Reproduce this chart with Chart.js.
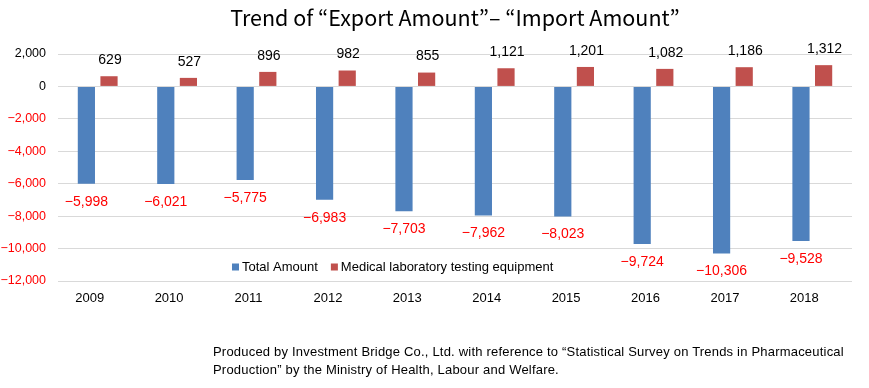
<!DOCTYPE html>
<html>
<head>
<meta charset="utf-8">
<script src="https://cdn.jsdelivr.net/npm/chart.js@4.4.0/dist/chart.umd.min.js"></script>
<style>
  body{margin:0;background:#fff;}
  #wrap{position:relative;width:869px;height:388px;}
  #title{position:absolute;left:0;top:1px;width:910px;text-align:center;font-family:"Noto Sans CJK JP",sans-serif;font-size:21.5px;color:#000;}
  #note{position:absolute;left:213px;top:343px;font-family:"Liberation Sans",sans-serif;font-size:13px;letter-spacing:0.2px;line-height:18px;color:#000;}
</style>
</head>
<body>
<div id="wrap">
  <canvas id="myBarChart" width="869" height="388"></canvas>
  <div id="title">Trend of “Export Amount”– “Import Amount”</div>
  <div id="note">Produced by Investment Bridge Co., Ltd. with reference to “Statistical Survey on Trends in Pharmaceutical<br>Production” by the Ministry of Health, Labour and Welfare.</div>
</div>
<script>
const years = ['2009','2010','2011','2012','2013','2014','2015','2016','2017','2018'];
const totalAmount = [-5998,-6021,-5775,-6983,-7703,-7962,-8023,-9724,-10306,-9528];
const medicalEquipment = [629,527,896,982,855,1121,1201,1082,1186,1312];
const seriesNames = ['Total Amount','Medical laboratory testing equipment'];

const fmt =(v)=>{
    const s = Math.abs(v).toLocaleString('en-US');
    return v < 0 ? '\u2212'+s : s;
}

// value labels above / below each bar
const valueLabels = {
    id:'valueLabels',
    afterDatasetsDraw(chart){
        const ctx = chart.ctx;
        ctx.save();
        ctx.font = '14px "Liberation Sans", sans-serif';
        ctx.textAlign = 'center';
        ctx.textBaseline = 'middle';
        chart.data.datasets.forEach((ds,i)=>{
            chart.getDatasetMeta(i).data.forEach((bar,j)=>{
                const v = ds.data[j];
                if(v < 0){
                    ctx.fillStyle = '#ff0000';
                    ctx.fillText(fmt(v), bar.x, bar.y+18);
                }else{
                    ctx.fillStyle = '#000';
                    ctx.fillText(fmt(v), bar.x+1, bar.y-16);
                }
            })
        })
        ctx.restore();
    }
}

// legend drawn inside the plot, near the bottom
const innerLegend = {
    id:'innerLegend',
    afterDraw(chart){
        const ctx = chart.ctx;
        ctx.save();
        ctx.font = '13px "Liberation Sans", sans-serif';
        ctx.textBaseline = 'middle';
        let x = 232;
        const y = 267;
        chart.data.datasets.forEach((ds)=>{
            ctx.fillStyle = ds.backgroundColor;
            ctx.fillRect(x, y-3.5, 7, 7);
            ctx.fillStyle = '#000';
            ctx.fillText(ds.label, x+10, y);
            x += 10 + ctx.measureText(ds.label).width + 13;
        })
        ctx.restore();
    }
}

const ctx = document.getElementById('myBarChart').getContext('2d');

const data = {
    labels: years,
    datasets: [{
        label: seriesNames[0],
        backgroundColor: '#4f81bd',
        data: totalAmount,
        categoryPercentage: 0.57,
        barPercentage: 0.76
    },{
        label: seriesNames[1],
        backgroundColor: '#c0504d',
        data: medicalEquipment,
        categoryPercentage: 0.57,
        barPercentage: 0.76
    }]
};

const config = {
    type: 'bar',
    data: data,
    plugins: [valueLabels, innerLegend],
    options: {
        responsive: false,
        animation: false,
        layout: {padding: {left: 0, right: 17, top: 54, bottom: 77}},
        plugins: {
            legend: {display: false},
            title: {display: false},
            tooltip: {enabled: false}
        },
        scales: {
            x: {
                grid: {display: false, drawTicks: false},
                border: {display: false},
                ticks: {
                    color: '#000',
                    padding: 10,
                    labelOffset: -8,
                    font: {size: 13, family: '"Liberation Sans", sans-serif'}
                },
                afterFit(scale){ scale.height = 30; }
            },
            y: {
                min: -12000,
                max: 2000,
                grid: {color: '#d9d9d9', drawTicks: false},
                border: {display: false},
                ticks: {
                    stepSize: 2000,
                    padding: 12,
                    color: (c)=> c.tick.value < 0 ? '#ff0000' : '#000',
                    font: {size: 12.5, family: '"Liberation Sans", sans-serif'},
                    callback: (v)=> fmt(v)
                },
                afterFit(scale){ scale.width = 58; }
            }
        }
    }
};

const myBarChart = new Chart(ctx, config);
</script>
</body>
</html>
